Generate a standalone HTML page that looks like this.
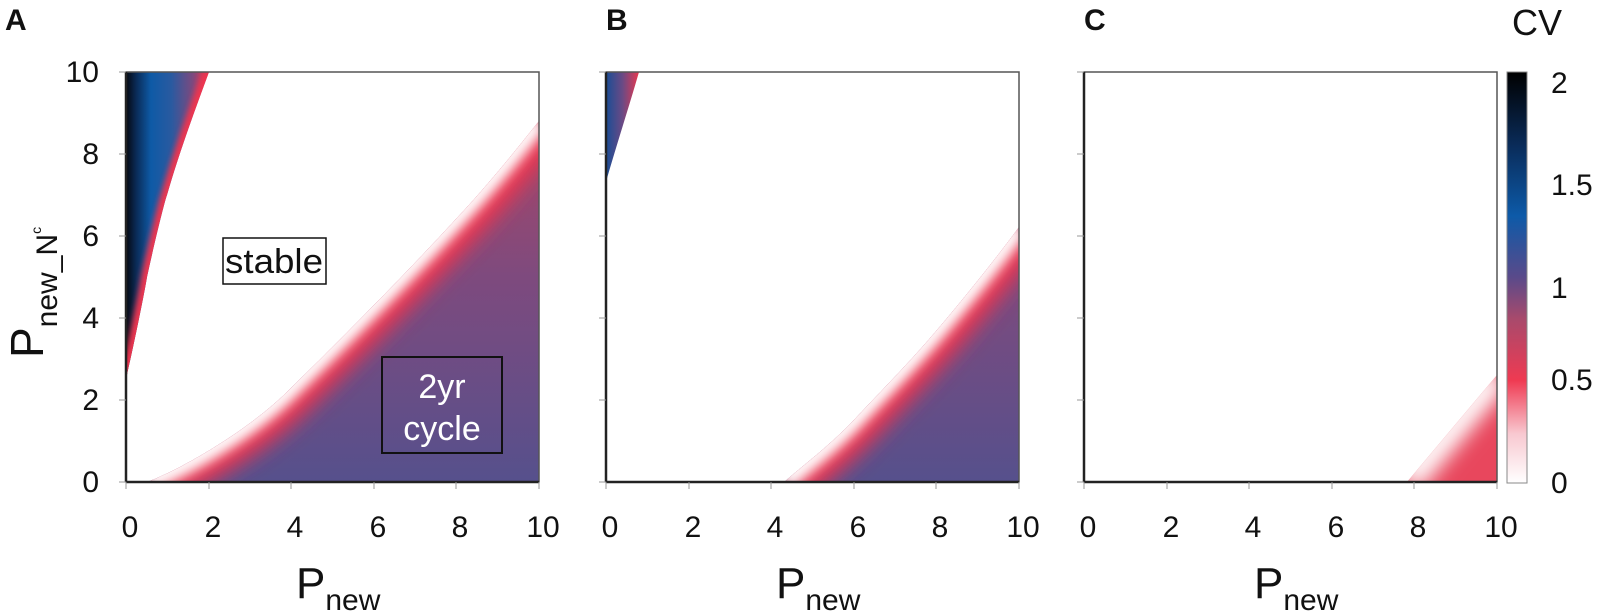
<!DOCTYPE html>
<html><head><meta charset="utf-8"><style>
html,body{margin:0;padding:0;background:#fff}
svg{display:block}
text{font-family:"Liberation Sans",Arial,sans-serif;fill:#111}
</style></head><body>
<svg width="1605" height="614" viewBox="0 0 1605 614" xmlns="http://www.w3.org/2000/svg">
<defs>
<filter id="b1" x="-50%" y="-50%" width="200%" height="200%"><feGaussianBlur stdDeviation="10"/></filter>
<filter id="b2" x="-50%" y="-50%" width="200%" height="200%"><feGaussianBlur stdDeviation="6"/></filter>
<filter id="b3" x="-50%" y="-50%" width="200%" height="200%"><feGaussianBlur stdDeviation="3"/></filter>
<linearGradient id="purp" x1="0" y1="0" x2="0" y2="1">
<stop offset="0" stop-color="#b8455f"/><stop offset="0.5" stop-color="#7e4a7e"/><stop offset="1" stop-color="#56508c"/>
</linearGradient>
<linearGradient id="blueA" x1="126" y1="0" x2="209" y2="0" gradientUnits="userSpaceOnUse">
<stop offset="0" stop-color="#05070f"/><stop offset="0.12" stop-color="#0a2a55"/><stop offset="0.3" stop-color="#0e5aa6"/><stop offset="0.55" stop-color="#2a5aa0"/><stop offset="0.8" stop-color="#7a4a80"/><stop offset="1" stop-color="#e0384f"/>
</linearGradient>
<linearGradient id="blueB" x1="606" y1="0" x2="639" y2="0" gradientUnits="userSpaceOnUse">
<stop offset="0" stop-color="#1a4d95"/><stop offset="0.5" stop-color="#6a4a85"/><stop offset="1" stop-color="#e8384f"/>
</linearGradient>
<linearGradient id="cbar" x1="0" y1="1" x2="0" y2="0">
<stop offset="0" stop-color="#ffffff"/><stop offset="0.12" stop-color="#f8c8d0"/><stop offset="0.25" stop-color="#ef3a52"/><stop offset="0.4" stop-color="#a84a6c"/><stop offset="0.5" stop-color="#5a4a8a"/><stop offset="0.65" stop-color="#0d5aa8"/><stop offset="0.82" stop-color="#0a2c5a"/><stop offset="1" stop-color="#000"/>
</linearGradient>
<clipPath id="cA1"><path d="M147,482 C180,470 250,430 291,388 C330,350 400,280 456,219 C490,183 520,145 539,121 L539,482 Z"/></clipPath>
<clipPath id="cA2"><path d="M126,379 C135,340 145,290 147,277 C155,240 165,200 167,195 C180,150 195,110 209,72 L126,72 Z"/></clipPath>
<clipPath id="cB1"><path d="M784,482 C810,460 830,445 854,420 C880,392 910,362 937,330 C965,297 995,260 1019,227 L1019,482 Z"/></clipPath>
<clipPath id="cB2"><path d="M606,182 C615,150 628,110 639,72 L606,72 Z"/></clipPath>
<clipPath id="cC1"><path d="M1407,482 L1497,375 L1497,482 Z"/></clipPath>
</defs>

<g clip-path="url(#cA1)">
<rect x="126" y="72" width="413" height="410" fill="url(#purp)"/>
<path d="M147,482 C180,470 250,430 291,388 C330,350 400,280 456,219 C490,183 520,145 539,121" fill="none" stroke="#ee3550" stroke-width="55" filter="url(#b1)"/>
<path d="M147,482 C180,470 250,430 291,388 C330,350 400,280 456,219 C490,183 520,145 539,121" fill="none" stroke="#fff" stroke-width="20" filter="url(#b2)"/>
</g>
<g clip-path="url(#cA2)">
<rect x="126" y="72" width="90" height="320" fill="url(#blueA)"/>
<path d="M126,379 C135,340 145,290 147,277 C155,240 165,200 167,195 C180,150 195,110 209,72" fill="none" stroke="#ee3550" stroke-width="12" filter="url(#b3)"/>
</g>
<g clip-path="url(#cB1)">
<rect x="606" y="72" width="413" height="410" fill="url(#purp)"/>
<path d="M784,482 C810,460 830,445 854,420 C880,392 910,362 937,330 C965,297 995,260 1019,227" fill="none" stroke="#ee3550" stroke-width="55" filter="url(#b1)"/>
<path d="M784,482 C810,460 830,445 854,420 C880,392 910,362 937,330 C965,297 995,260 1019,227" fill="none" stroke="#fff" stroke-width="20" filter="url(#b2)"/>
</g>
<g clip-path="url(#cB2)"><rect x="606" y="72" width="35" height="115" fill="url(#blueB)"/></g>
<g clip-path="url(#cC1)">
<rect x="1400" y="370" width="100" height="115" fill="#e8475d"/>
<path d="M1407,482 L1497,375" fill="none" stroke="#fff" stroke-width="30" filter="url(#b1)"/>
</g>

<g fill="none" stroke="#555" stroke-width="1.5">
<rect x="126" y="72" width="413" height="410"/>
<rect x="606" y="72" width="413" height="410"/>
<rect x="1084" y="72" width="413" height="410"/>
</g>
<g stroke="#222" stroke-width="2.5">
<line x1="126" y1="482" x2="539" y2="482"/><line x1="606" y1="482" x2="1019" y2="482"/><line x1="1084" y1="482" x2="1497" y2="482"/>
<line x1="126" y1="72" x2="126" y2="482"/><line x1="606" y1="72" x2="606" y2="482"/><line x1="1084" y1="72" x2="1084" y2="482"/>
</g>
<g stroke="#999" stroke-width="1">
<path d="M119,482h7M119,400h7M119,318h7M119,236h7M119,154h7M119,72h7"/>
<path d="M599,482h7M599,400h7M599,318h7M599,236h7M599,154h7M599,72h7"/>
<path d="M1077,482h7M1077,400h7M1077,318h7M1077,236h7M1077,154h7M1077,72h7"/>
<path d="M126,482v7M209,482v7M291,482v7M374,482v7M456,482v7M539,482v7"/>
<path d="M606,482v7M689,482v7M771,482v7M854,482v7M936,482v7M1019,482v7"/>
<path d="M1084,482v7M1167,482v7M1249,482v7M1332,482v7M1414,482v7M1497,482v7"/>
</g>
<g font-size="30" text-anchor="end">
<text x="99" y="492">0</text><text x="99" y="410">2</text><text x="99" y="328">4</text><text x="99" y="246">6</text><text x="99" y="164">8</text><text x="99" y="82">10</text>
</g>
<g font-size="30" text-anchor="middle">
<text x="130" y="537">0</text><text x="213" y="537">2</text><text x="295" y="537">4</text><text x="378" y="537">6</text><text x="460" y="537">8</text><text x="543" y="537">10</text>
<text x="610" y="537">0</text><text x="693" y="537">2</text><text x="775" y="537">4</text><text x="858" y="537">6</text><text x="940" y="537">8</text><text x="1023" y="537">10</text>
<text x="1088" y="537">0</text><text x="1171" y="537">2</text><text x="1253" y="537">4</text><text x="1336" y="537">6</text><text x="1418" y="537">8</text><text x="1501" y="537">10</text>
</g>
<text x="296" y="598" font-size="44">P<tspan font-size="30" dy="12">new</tspan></text>
<text x="776" y="598" font-size="44">P<tspan font-size="30" dy="12">new</tspan></text>
<text x="1254" y="598" font-size="44">P<tspan font-size="30" dy="12">new</tspan></text>
<text transform="translate(43,358) rotate(-90)" font-size="46">P<tspan font-size="30" dy="14">new_N</tspan><tspan font-size="14" dy="-16">c</tspan></text>
<g font-size="30" font-weight="bold"><text x="5" y="30">A</text><text x="606" y="30">B</text><text x="1084" y="30">C</text></g>
<rect x="223" y="238" width="103" height="46" fill="#fff" stroke="#111" stroke-width="1.5"/>
<text x="274" y="273" font-size="34" text-anchor="middle" textLength="98" lengthAdjust="spacingAndGlyphs">stable</text>
<rect x="382" y="357" width="120" height="96" fill="none" stroke="#111" stroke-width="2"/>
<text x="442" y="398" font-size="34" text-anchor="middle" style="fill:#fff">2yr</text>
<text x="442" y="440" font-size="34" text-anchor="middle" style="fill:#fff">cycle</text>
<rect x="1507" y="72" width="20" height="411" fill="url(#cbar)" stroke="#888" stroke-width="1"/>
<text x="1537" y="35" font-size="36" text-anchor="middle">CV</text>
<g font-size="30">
<text x="1551" y="93">2</text><text x="1551" y="195">1.5</text><text x="1551" y="298">1</text><text x="1551" y="390">0.5</text><text x="1551" y="493">0</text>
</g>
</svg>
</body></html>
